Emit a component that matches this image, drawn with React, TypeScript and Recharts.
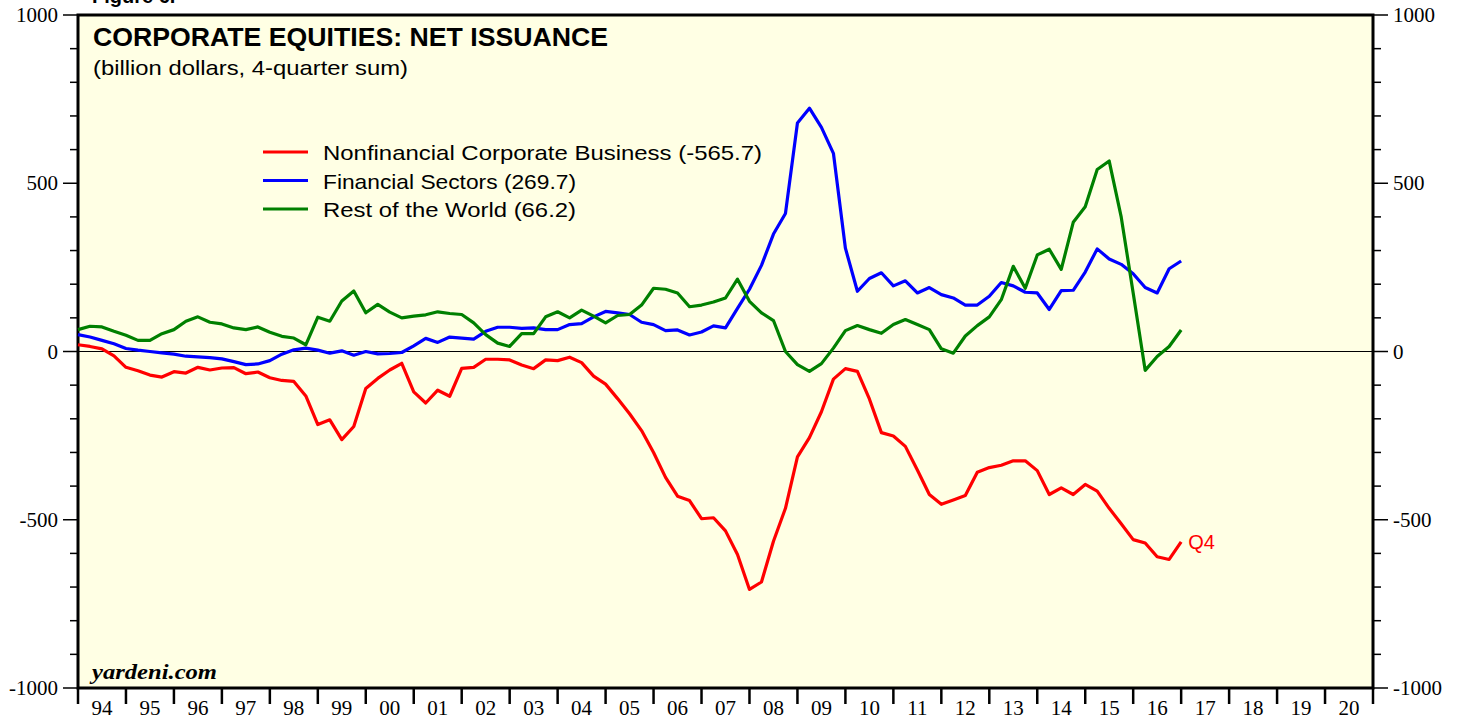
import React from "react";
import {
  LineChart,
  Line,
  XAxis,
  YAxis,
  ReferenceLine,
  ReferenceArea,
} from "recharts";

// 4-quarter sums, billion dollars, 1993Q4 .. 2016Q4 (plotted at quarter end)
const FIRST_YEAR = 1994;

const NONFINANCIAL = [
  20, 15, 8, -13, -47, -57, -70, -76, -60, -64,
  -47, -55, -49, -48, -66, -61, -78, -86, -89, -132,
  -217, -203, -262, -223, -110, -80, -55, -35, -120, -153,
  -115, -133, -50, -47, -23, -23, -25, -40, -51, -25,
  -27, -17, -33, -73, -97, -140, -185, -235, -300, -374,
  -430, -443, -497, -494, -533, -603, -707, -685, -564, -466,
  -313, -256, -179, -82, -51, -59, -141, -241, -251, -282,
  -352, -425, -454, -441, -428, -359, -345, -338, -325, -325,
  -354, -425, -405, -425, -395, -415, -466, -512, -559, -569,
  -610, -618, -566,
];

const FINANCIAL = [
  50, 43, 33, 23, 9, 4, 0, -4, -8, -14,
  -16, -18, -22, -30, -39, -37, -27, -8, 5, 10,
  4, -5, 2, -11, 0, -7, -6, -3, 17, 39,
  27, 43, 40, 37, 60, 72, 72, 69, 70, 65,
  65, 80, 83, 103, 119, 115, 110, 87, 80, 62,
  64, 49, 58, 76, 70, 128, 185, 256, 349, 410,
  679, 723, 666, 589, 307, 179, 217, 234, 195, 210,
  174, 190, 169, 159, 138, 138, 164, 205, 195, 176,
  174, 125, 181, 182, 236, 305, 275, 259, 231, 190,
  174, 246, 269,
];

const REST_OF_WORLD = [
  65, 75, 73, 60, 48, 33, 33, 53, 65, 90,
  103, 87, 82, 70, 65, 73, 57, 45, 40, 20,
  102, 90, 150, 180, 115, 140, 117, 100, 105, 109,
  118, 113, 110, 85, 50, 25, 15, 53, 53, 103,
  118, 100, 123, 105, 85, 107, 110, 138, 188, 185,
  174, 133, 138, 147, 159, 215, 149, 115, 92, 0,
  -39, -59, -36, 10, 62, 77, 65, 54, 80, 95,
  80, 65, 8, -5, 46, 77, 103, 154, 253, 188,
  287, 304, 244, 384, 430, 541, 566, 400, 174, -56,
  -15, 15, 64,
];

const SERIES = [
  { key: "nonfin", name: "Nonfinancial Corporate Business (-565.7)", color: "#ff0000", axis: "left" },
  { key: "fin", name: "Financial Sectors (269.7)", color: "#0000ff", axis: "left" },
  { key: "row", name: "Rest of the World (66.2)", color: "#008000", axis: "right" },
];

const YEAR_TICKS = Array.from({ length: 28 }, (_, i) => FIRST_YEAR + i);
const Y_TICKS = Array.from({ length: 21 }, (_, i) => -1000 + i * 100);

const data = NONFINANCIAL.map((v, i) => ({
  t: FIRST_YEAR + i / 4,
  nonfin: v,
  fin: FINANCIAL[i],
  row: REST_OF_WORLD[i],
}));

const W = 1462;
const H = 719;
const PLOT_LEFT = 78;
const PLOT_RIGHT = 1373;
const YEAR_PX = (PLOT_RIGHT - PLOT_LEFT) / (YEAR_TICKS.length - 1);
const BG = "#ffffe4";
const NUM_FONT = "'Liberation Serif', 'Times New Roman', serif";
const SANS = "'Liberation Sans', Arial, sans-serif";

function XTick(props: any) {
  const { x, y, payload } = props;
  const yr = payload.value as number;
  return (
    <g>
      <line x1={x} x2={x} y1={y} y2={y + 16} stroke="#000" strokeWidth={2.5} />
      {yr < YEAR_TICKS[YEAR_TICKS.length - 1] && (
        <text
          x={x + YEAR_PX / 2}
          y={y + 27}
          textAnchor="middle"
          fontFamily={NUM_FONT}
          fontSize={21}
          fill="#000"
        >
          {String(yr % 100).padStart(2, "0")}
        </text>
      )}
    </g>
  );
}

function YTick(props: any) {
  const { x, y, payload, side } = props;
  const v = payload.value as number;
  const major = v % 500 === 0;
  const len = major ? 15 : 8;
  const dir = side === "left" ? -1 : 1;
  return (
    <g>
      <line x1={x} x2={x + dir * len} y1={y} y2={y} stroke="#000" strokeWidth={1.5} />
      {major && (
        <text
          x={x + dir * 20}
          y={y}
          dy={7}
          textAnchor={side === "left" ? "end" : "start"}
          fontFamily={NUM_FONT}
          fontSize={21}
          fill="#000"
        >
          {v}
        </text>
      )}
    </g>
  );
}

function EndLabel(props: any) {
  const { x, y, index } = props;
  if (index !== NONFINANCIAL.length - 1) return null;
  return (
    <text x={x + 7} y={y + 7} fill="#ff0000" fontFamily={SANS} fontSize={20}>
      Q4
    </text>
  );
}

export default function App() {
  return (
    <div style={{ position: "absolute", left: 0, top: 0, width: W, height: H, background: "#fff" }}>
      <LineChart
        width={W}
        height={H}
        data={data}
        margin={{ top: 15, right: 9, bottom: 0, left: 8 }}
      >
        <XAxis
          dataKey="t"
          type="number"
          domain={[FIRST_YEAR, YEAR_TICKS[YEAR_TICKS.length - 1]]}
          ticks={YEAR_TICKS}
          interval={0}
          height={31}
          tickSize={0}
          tickMargin={0}
          tickLine={false}
          axisLine={false}
          tick={<XTick />}
        />
        <YAxis
          yAxisId="left"
          domain={[-1000, 1000]}
          allowDataOverflow
          ticks={Y_TICKS}
          interval={0}
          width={70}
          tickSize={0}
          tickMargin={0}
          tickLine={false}
          axisLine={false}
          tick={<YTick side="left" />}
        />
        <YAxis
          yAxisId="right"
          orientation="right"
          domain={[-1000, 1000]}
          allowDataOverflow
          ticks={Y_TICKS}
          interval={0}
          width={80}
          tickSize={0}
          tickMargin={0}
          tickLine={false}
          axisLine={false}
          tick={<YTick side="right" />}
        />
        <ReferenceArea
          yAxisId="left"
          x1={FIRST_YEAR}
          x2={YEAR_TICKS[YEAR_TICKS.length - 1]}
          y1={-1000}
          y2={1000}
          fill={BG}
          fillOpacity={1}
          stroke="#000"
          strokeWidth={3}
          ifOverflow="visible"
        />
        <ReferenceLine yAxisId="left" y={0} stroke="#000" strokeWidth={1} />
        {SERIES.map((s) => (
          <Line
            key={s.key}
            yAxisId={s.axis}
            type="linear"
            dataKey={s.key}
            stroke={s.color}
            strokeWidth={3.2}
            strokeLinejoin="round"
            dot={false}
            isAnimationActive={false}
            label={s.key === "nonfin" ? <EndLabel /> : undefined}
          />
        ))}
      </LineChart>

      <svg
        width={W}
        height={H}
        style={{ position: "absolute", left: 0, top: 0, pointerEvents: "none" }}
      >
        <text x={92} y={3} fontFamily={SANS} fontWeight="bold" fontSize={20} fill="#000">
          Figure 6.
        </text>
        <text
          x={93}
          y={46}
          fontFamily={SANS}
          fontWeight="bold"
          fontSize={25}
          textLength={515}
          lengthAdjust="spacingAndGlyphs"
          fill="#000"
        >
          CORPORATE EQUITIES: NET ISSUANCE
        </text>
        <text
          x={93}
          y={75}
          fontFamily={SANS}
          fontSize={21}
          textLength={315}
          lengthAdjust="spacingAndGlyphs"
          fill="#000"
        >
          (billion dollars, 4-quarter sum)
        </text>
        {SERIES.map((s, i) => {
          const cy = 152 + i * 28.5;
          const widths = [439, 253, 253];
          return (
            <g key={s.key}>
              <line x1={263} x2={308} y1={cy} y2={cy} stroke={s.color} strokeWidth={3} />
              <text
                x={323}
                y={cy + 8}
                fontFamily={SANS}
                fontSize={21}
                textLength={widths[i]}
                lengthAdjust="spacingAndGlyphs"
                fill="#000"
              >
                {s.name}
              </text>
            </g>
          );
        })}
        <text
          x={92}
          y={679}
          fontFamily={NUM_FONT}
          fontStyle="italic"
          fontWeight="bold"
          fontSize={21}
          textLength={125}
          lengthAdjust="spacingAndGlyphs"
          fill="#000"
        >
          yardeni.com
        </text>
      </svg>
    </div>
  );
}
